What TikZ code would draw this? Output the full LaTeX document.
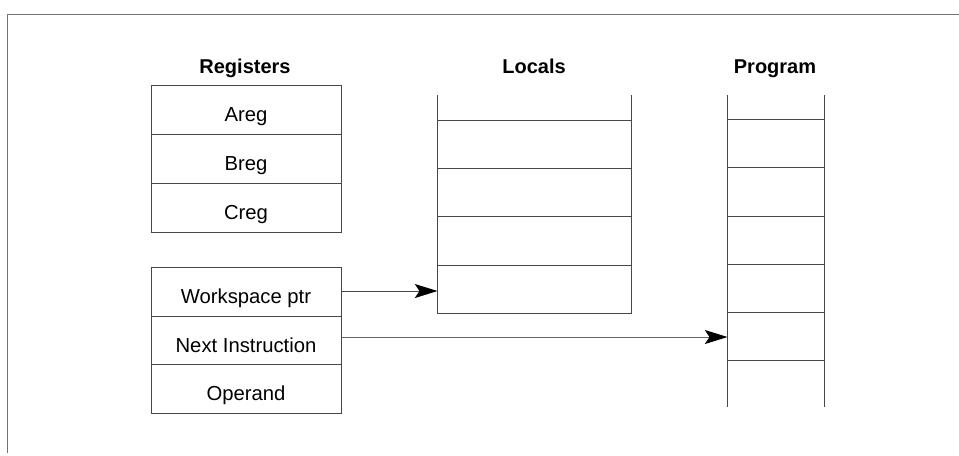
\documentclass[tikz,border=0pt]{standalone}
\usepackage{fontspec}
\setmainfont{Liberation Sans}
\usetikzlibrary{arrows.meta}
\begin{document}
\begin{tikzpicture}[x=0.75pt,y=-0.75pt,
  ln/.style={draw=black!72,line width=0.75pt},
  cell/.style={ln,minimum width=142.5pt,minimum height=36.6pt,inner sep=0pt,anchor=north west,text height=18pt,text depth=0pt,font=\fontsize{15.2pt}{18pt}\selectfont},
  title/.style={font=\fontsize{15pt}{18pt}\selectfont\bfseries,anchor=base},
  arr/.style={ln,-{Stealth[length=17pt,width=10.5pt,inset=3.5pt,color=black]}}]
\useasboundingbox (0,0) rectangle (959,455);
% frame
\draw[ln,draw=black!55] (959,14) coordinate (fr) -- (7,14) -- (7,453);
% titles
\node[title] (tr) at (245,73) {Registers};
\node[title] (tl) at (534,73) {Locals};
\node[title] (tp) at (775,73) {Program};
% registers
\node[cell] (areg) at (150.5,85) {Areg};
\node[cell] (breg) at (150.5,134) {Breg};
\node[cell] (creg) at (150.5,183) {Creg};
\node[cell] (wptr) at (150.5,267) {Workspace ptr};
\node[cell] (next) at (150.5,315.5) {Next Instruction};
\node[cell] (oper) at (150.5,364) {Operand};
% locals
\draw[ln] (437.5,95) -- (437.5,313) -- (631,313) -- (631,95);
\foreach \y in {120,168,216,265} \draw[ln] (437.5,\y) -- (631,\y);
\coordinate (lw) at (437.5,291);
% program
\draw[ln] (727.5,95) -- (727.5,407);
\draw[ln] (824,95) -- (824,407);
\foreach \y in {119,167,216,264,312,360} \draw[ln] (727.5,\y) -- (824,\y);
\coordinate (pn) at (727.5,337);
% arrows
\draw[arr] (wptr.east |- lw) -- (lw);
\draw[arr,draw=black!60] (next.east |- pn) -- (pn);
\end{tikzpicture}
\end{document}
